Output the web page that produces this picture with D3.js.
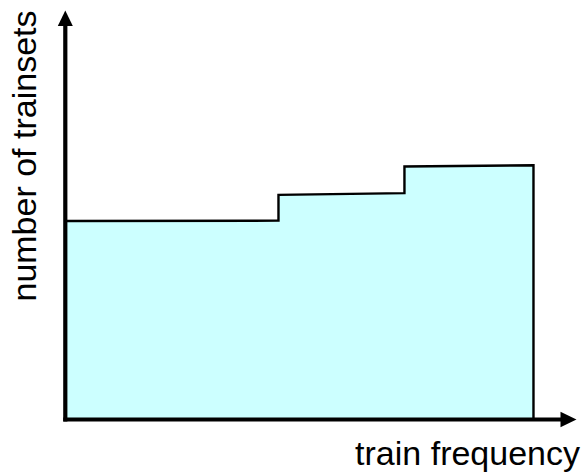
<!DOCTYPE html>
<html>
<head>
<meta charset="utf-8">
<script src="https://cdn.jsdelivr.net/npm/d3@7"></script>
<style>
  html, body { margin: 0; padding: 0; background: #fff; }
  svg { display: block; }
</style>
</head>
<body>
<svg id="chart" width="583" height="473"></svg>
<script>
// ---- data (arbitrary units, no ticks shown) ----
const stepStarts = [0, 4.18, 6.65];       // train frequency where each step begins
const stepEnds   = [4.18, 6.65, 9.18];    // train frequency where each step ends
const levelStart = [4.84, 5.48, 6.17];    // number of trainsets at step start
const levelEnd   = [4.85, 5.52, 6.20];    // number of trainsets at step end
const xLabel = "train frequency";
const yLabel = "number of trainsets";

const svg = d3.select("#chart");
const x = d3.scaleLinear().domain([0, 10]).range([65.3, 575.3]);
const y = d3.scaleLinear().domain([0, 10]).range([419.5, 9.5]);

// build the step outline from data
const pts = [];
pts.push([stepStarts[0], 0]);
for (let i = 0; i < stepStarts.length; i++) {
  pts.push([stepStarts[i], levelStart[i]]);
  pts.push([stepEnds[i], levelEnd[i]]);
}
pts.push([stepEnds[stepEnds.length - 1], 0]);

const area = d3.area().x(d => x(d[0])).y0(y(0)).y1(d => y(d[1]));
svg.append("path")
  .datum(pts)
  .attr("d", area)
  .attr("fill", "#ccffff");

const line = d3.line().x(d => x(d[0])).y(d => y(d[1]));
svg.append("path")
  .datum(pts.slice(1))
  .attr("d", line)
  .attr("fill", "none")
  .attr("stroke", "#000")
  .attr("stroke-width", 2.4)
  .attr("stroke-linejoin", "miter");

// axes with arrows
const x0 = x(0), y0 = y(0);
const yTop = 10.5, xRight = 576.5;
svg.append("line")
  .attr("x1", x0).attr("y1", y0 + 2).attr("x2", x0).attr("y2", yTop + 12)
  .attr("stroke", "#000").attr("stroke-width", 4.2);
svg.append("path")
  .attr("d", `M${x0},${yTop} L${x0 - 7.5},${yTop + 15.5} L${x0 + 7.5},${yTop + 15.5} Z`)
  .attr("fill", "#000");
svg.append("line")
  .attr("x1", x0 - 2).attr("y1", y0).attr("x2", xRight - 12).attr("y2", y0)
  .attr("stroke", "#000").attr("stroke-width", 4.2);
svg.append("path")
  .attr("d", `M${xRight},${y0} L${xRight - 16},${y0 - 7.7} L${xRight - 16},${y0 + 7.7} Z`)
  .attr("fill", "#000");

// labels
svg.append("text")
  .attr("x", 0).attr("y", 0)
  .attr("transform", "translate(36,156) rotate(-90)")
  .attr("text-anchor", "middle")
  .attr("font-family", "Liberation Sans, Arial, sans-serif")
  .attr("font-size", 34)
  .attr("fill", "#000")
  .text(yLabel);

svg.append("text")
  .attr("x", 580).attr("y", 465)
  .attr("text-anchor", "end")
  .attr("font-family", "Liberation Sans, Arial, sans-serif")
  .attr("font-size", 34)
  .attr("fill", "#000")
  .text(xLabel);
</script>
</body>
</html>
